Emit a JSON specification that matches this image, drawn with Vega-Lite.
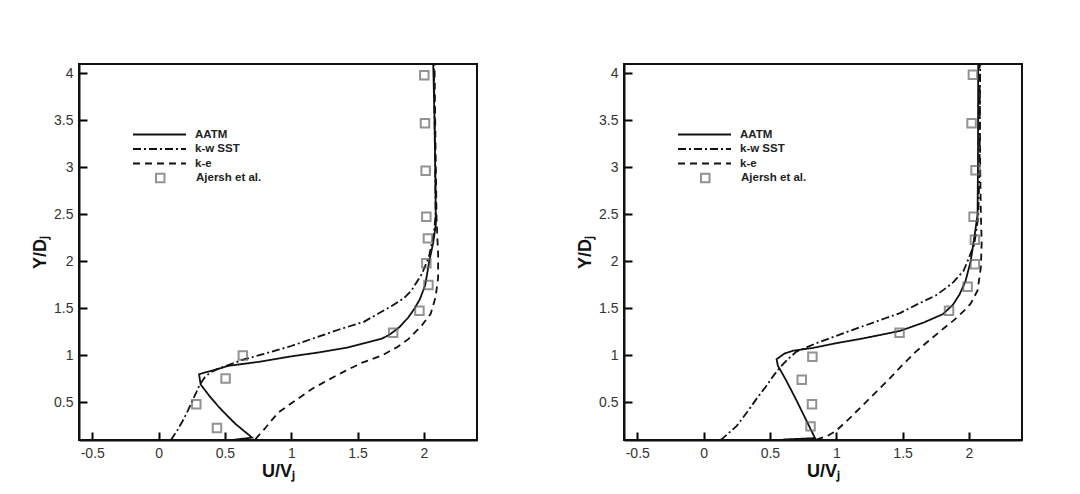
{
  "$schema": "https://vega.github.io/schema/vega-lite/v6.json",
  "padding": {"left": 30, "top": 59, "right": 5, "bottom": 5},
  "background": "white",
  "config": {
    "view": {"stroke": "#111", "strokeWidth": 2},
    "font": "Liberation Sans",
    "axis": {"grid": false, "domainColor": "#111", "domainWidth": 2, "labelFont": "Liberation Sans", "labelFontSize": 14, "labelColor": "#333", "titleFont": "Liberation Sans", "titleFontSize": 18, "titleFontWeight": "bold", "titleColor": "#111"},
    "legend": {"labelFont": "Liberation Sans", "labelFontSize": 11.5, "labelFontWeight": "bold", "labelColor": "#222", "padding": 0, "title": null}
  },
  "datasets": {
    "lines": [
      {"panel": "L", "series": "AATM", "x": 0.55, "y": 0.10},
      {"panel": "L", "series": "AATM", "x": 0.705, "y": 0.125},
      {"panel": "L", "series": "AATM", "x": 0.645, "y": 0.195},
      {"panel": "L", "series": "AATM", "x": 0.58, "y": 0.27},
      {"panel": "L", "series": "AATM", "x": 0.52, "y": 0.355},
      {"panel": "L", "series": "AATM", "x": 0.455, "y": 0.45},
      {"panel": "L", "series": "AATM", "x": 0.385, "y": 0.565},
      {"panel": "L", "series": "AATM", "x": 0.317, "y": 0.69},
      {"panel": "L", "series": "AATM", "x": 0.305, "y": 0.80},
      {"panel": "L", "series": "AATM", "x": 0.42, "y": 0.845},
      {"panel": "L", "series": "AATM", "x": 0.53, "y": 0.89},
      {"panel": "L", "series": "AATM", "x": 0.75, "y": 0.93},
      {"panel": "L", "series": "AATM", "x": 1.0, "y": 0.99},
      {"panel": "L", "series": "AATM", "x": 1.2, "y": 1.03},
      {"panel": "L", "series": "AATM", "x": 1.41, "y": 1.08},
      {"panel": "L", "series": "AATM", "x": 1.55, "y": 1.13},
      {"panel": "L", "series": "AATM", "x": 1.685, "y": 1.18},
      {"panel": "L", "series": "AATM", "x": 1.74, "y": 1.22},
      {"panel": "L", "series": "AATM", "x": 1.815, "y": 1.30},
      {"panel": "L", "series": "AATM", "x": 1.88, "y": 1.40},
      {"panel": "L", "series": "AATM", "x": 1.93, "y": 1.50},
      {"panel": "L", "series": "AATM", "x": 1.97, "y": 1.60},
      {"panel": "L", "series": "AATM", "x": 2.01, "y": 1.75},
      {"panel": "L", "series": "AATM", "x": 2.04, "y": 2.0},
      {"panel": "L", "series": "AATM", "x": 2.07, "y": 2.2},
      {"panel": "L", "series": "AATM", "x": 2.09, "y": 2.4},
      {"panel": "L", "series": "AATM", "x": 2.085, "y": 3.0},
      {"panel": "L", "series": "AATM", "x": 2.08, "y": 3.5},
      {"panel": "L", "series": "AATM", "x": 2.07, "y": 4.1},
      {"panel": "L", "series": "k-w SST", "x": 0.093, "y": 0.10},
      {"panel": "L", "series": "k-w SST", "x": 0.14, "y": 0.2},
      {"panel": "L", "series": "k-w SST", "x": 0.18, "y": 0.30},
      {"panel": "L", "series": "k-w SST", "x": 0.22, "y": 0.41},
      {"panel": "L", "series": "k-w SST", "x": 0.255, "y": 0.52},
      {"panel": "L", "series": "k-w SST", "x": 0.285, "y": 0.61},
      {"panel": "L", "series": "k-w SST", "x": 0.31, "y": 0.69},
      {"panel": "L", "series": "k-w SST", "x": 0.35, "y": 0.77},
      {"panel": "L", "series": "k-w SST", "x": 0.39, "y": 0.82},
      {"panel": "L", "series": "k-w SST", "x": 0.47, "y": 0.87},
      {"panel": "L", "series": "k-w SST", "x": 0.54, "y": 0.905},
      {"panel": "L", "series": "k-w SST", "x": 0.65, "y": 0.96},
      {"panel": "L", "series": "k-w SST", "x": 0.78, "y": 1.01},
      {"panel": "L", "series": "k-w SST", "x": 1.0, "y": 1.1},
      {"panel": "L", "series": "k-w SST", "x": 1.164, "y": 1.18},
      {"panel": "L", "series": "k-w SST", "x": 1.35, "y": 1.27},
      {"panel": "L", "series": "k-w SST", "x": 1.55, "y": 1.36},
      {"panel": "L", "series": "k-w SST", "x": 1.65, "y": 1.44},
      {"panel": "L", "series": "k-w SST", "x": 1.763, "y": 1.53},
      {"panel": "L", "series": "k-w SST", "x": 1.85, "y": 1.61},
      {"panel": "L", "series": "k-w SST", "x": 1.906, "y": 1.69},
      {"panel": "L", "series": "k-w SST", "x": 1.984, "y": 1.865},
      {"panel": "L", "series": "k-w SST", "x": 2.036, "y": 2.04},
      {"panel": "L", "series": "k-w SST", "x": 2.075, "y": 2.29},
      {"panel": "L", "series": "k-w SST", "x": 2.088, "y": 2.5},
      {"panel": "L", "series": "k-w SST", "x": 2.085, "y": 3.0},
      {"panel": "L", "series": "k-w SST", "x": 2.08, "y": 3.5},
      {"panel": "L", "series": "k-w SST", "x": 2.075, "y": 4.1},
      {"panel": "L", "series": "k-e", "x": 0.73, "y": 0.11},
      {"panel": "L", "series": "k-e", "x": 0.80, "y": 0.22},
      {"panel": "L", "series": "k-e", "x": 0.90, "y": 0.39},
      {"panel": "L", "series": "k-e", "x": 1.03, "y": 0.52},
      {"panel": "L", "series": "k-e", "x": 1.164, "y": 0.65},
      {"panel": "L", "series": "k-e", "x": 1.28, "y": 0.74},
      {"panel": "L", "series": "k-e", "x": 1.40, "y": 0.83},
      {"panel": "L", "series": "k-e", "x": 1.53, "y": 0.92},
      {"panel": "L", "series": "k-e", "x": 1.685, "y": 1.0},
      {"panel": "L", "series": "k-e", "x": 1.80, "y": 1.09},
      {"panel": "L", "series": "k-e", "x": 1.88, "y": 1.17},
      {"panel": "L", "series": "k-e", "x": 1.984, "y": 1.32},
      {"panel": "L", "series": "k-e", "x": 2.05, "y": 1.44},
      {"panel": "L", "series": "k-e", "x": 2.088, "y": 1.62},
      {"panel": "L", "series": "k-e", "x": 2.107, "y": 1.83},
      {"panel": "L", "series": "k-e", "x": 2.107, "y": 2.08},
      {"panel": "L", "series": "k-e", "x": 2.10, "y": 2.29},
      {"panel": "L", "series": "k-e", "x": 2.095, "y": 2.47},
      {"panel": "L", "series": "k-e", "x": 2.09, "y": 3.0},
      {"panel": "L", "series": "k-e", "x": 2.085, "y": 3.5},
      {"panel": "L", "series": "k-e", "x": 2.08, "y": 4.1},
      {"panel": "R", "series": "AATM", "x": 0.60, "y": 0.105},
      {"panel": "R", "series": "AATM", "x": 0.84, "y": 0.12},
      {"panel": "R", "series": "AATM", "x": 0.826, "y": 0.16},
      {"panel": "R", "series": "AATM", "x": 0.76, "y": 0.35},
      {"panel": "R", "series": "AATM", "x": 0.69, "y": 0.55},
      {"panel": "R", "series": "AATM", "x": 0.62, "y": 0.74},
      {"panel": "R", "series": "AATM", "x": 0.56, "y": 0.89},
      {"panel": "R", "series": "AATM", "x": 0.55, "y": 0.96},
      {"panel": "R", "series": "AATM", "x": 0.61, "y": 1.02},
      {"panel": "R", "series": "AATM", "x": 0.675, "y": 1.05},
      {"panel": "R", "series": "AATM", "x": 0.826, "y": 1.08},
      {"panel": "R", "series": "AATM", "x": 1.0, "y": 1.13},
      {"panel": "R", "series": "AATM", "x": 1.2, "y": 1.18},
      {"panel": "R", "series": "AATM", "x": 1.48, "y": 1.26},
      {"panel": "R", "series": "AATM", "x": 1.66, "y": 1.35},
      {"panel": "R", "series": "AATM", "x": 1.805, "y": 1.44},
      {"panel": "R", "series": "AATM", "x": 1.88, "y": 1.54},
      {"panel": "R", "series": "AATM", "x": 1.93, "y": 1.65},
      {"panel": "R", "series": "AATM", "x": 1.974, "y": 1.79},
      {"panel": "R", "series": "AATM", "x": 2.013, "y": 2.0},
      {"panel": "R", "series": "AATM", "x": 2.044, "y": 2.29},
      {"panel": "R", "series": "AATM", "x": 2.065, "y": 2.5},
      {"panel": "R", "series": "AATM", "x": 2.068, "y": 3.0},
      {"panel": "R", "series": "AATM", "x": 2.07, "y": 4.1},
      {"panel": "R", "series": "k-w SST", "x": 0.127, "y": 0.10},
      {"panel": "R", "series": "k-w SST", "x": 0.146, "y": 0.12},
      {"panel": "R", "series": "k-w SST", "x": 0.25, "y": 0.25},
      {"panel": "R", "series": "k-w SST", "x": 0.33, "y": 0.40},
      {"panel": "R", "series": "k-w SST", "x": 0.40, "y": 0.54},
      {"panel": "R", "series": "k-w SST", "x": 0.47, "y": 0.67},
      {"panel": "R", "series": "k-w SST", "x": 0.53, "y": 0.79},
      {"panel": "R", "series": "k-w SST", "x": 0.575, "y": 0.87},
      {"panel": "R", "series": "k-w SST", "x": 0.635, "y": 0.96},
      {"panel": "R", "series": "k-w SST", "x": 0.70, "y": 1.04},
      {"panel": "R", "series": "k-w SST", "x": 0.85, "y": 1.13},
      {"panel": "R", "series": "k-w SST", "x": 1.1, "y": 1.26},
      {"panel": "R", "series": "k-w SST", "x": 1.36, "y": 1.39},
      {"panel": "R", "series": "k-w SST", "x": 1.48, "y": 1.45},
      {"panel": "R", "series": "k-w SST", "x": 1.62, "y": 1.55},
      {"panel": "R", "series": "k-w SST", "x": 1.753, "y": 1.64},
      {"panel": "R", "series": "k-w SST", "x": 1.83, "y": 1.72},
      {"panel": "R", "series": "k-w SST", "x": 1.883, "y": 1.78},
      {"panel": "R", "series": "k-w SST", "x": 1.96, "y": 1.9},
      {"panel": "R", "series": "k-w SST", "x": 2.04, "y": 2.18},
      {"panel": "R", "series": "k-w SST", "x": 2.07, "y": 2.47},
      {"panel": "R", "series": "k-w SST", "x": 2.08, "y": 3.0},
      {"panel": "R", "series": "k-w SST", "x": 2.085, "y": 4.1},
      {"panel": "R", "series": "k-e", "x": 0.85, "y": 0.105},
      {"panel": "R", "series": "k-e", "x": 0.93, "y": 0.14},
      {"panel": "R", "series": "k-e", "x": 1.0, "y": 0.2},
      {"panel": "R", "series": "k-e", "x": 1.1, "y": 0.33},
      {"panel": "R", "series": "k-e", "x": 1.2, "y": 0.47},
      {"panel": "R", "series": "k-e", "x": 1.3, "y": 0.61},
      {"panel": "R", "series": "k-e", "x": 1.4, "y": 0.75},
      {"panel": "R", "series": "k-e", "x": 1.5, "y": 0.9},
      {"panel": "R", "series": "k-e", "x": 1.6, "y": 1.04},
      {"panel": "R", "series": "k-e", "x": 1.727, "y": 1.19},
      {"panel": "R", "series": "k-e", "x": 1.82, "y": 1.3},
      {"panel": "R", "series": "k-e", "x": 1.883, "y": 1.37},
      {"panel": "R", "series": "k-e", "x": 1.96, "y": 1.47},
      {"panel": "R", "series": "k-e", "x": 2.013, "y": 1.55},
      {"panel": "R", "series": "k-e", "x": 2.065, "y": 1.69},
      {"panel": "R", "series": "k-e", "x": 2.09, "y": 1.94},
      {"panel": "R", "series": "k-e", "x": 2.096, "y": 2.2},
      {"panel": "R", "series": "k-e", "x": 2.09, "y": 2.5},
      {"panel": "R", "series": "k-e", "x": 2.085, "y": 3.0},
      {"panel": "R", "series": "k-e", "x": 2.08, "y": 4.1}
    ],
    "points": [
      {"panel": "L", "series": "Ajersh et al.", "x": 2.003, "y": 3.98},
      {"panel": "L", "series": "Ajersh et al.", "x": 2.008, "y": 3.47},
      {"panel": "L", "series": "Ajersh et al.", "x": 2.013, "y": 2.965},
      {"panel": "L", "series": "Ajersh et al.", "x": 2.018, "y": 2.475},
      {"panel": "L", "series": "Ajersh et al.", "x": 2.03, "y": 2.245},
      {"panel": "L", "series": "Ajersh et al.", "x": 2.018, "y": 1.98},
      {"panel": "L", "series": "Ajersh et al.", "x": 2.034, "y": 1.75},
      {"panel": "L", "series": "Ajersh et al.", "x": 1.966, "y": 1.475},
      {"panel": "L", "series": "Ajersh et al.", "x": 1.768, "y": 1.24},
      {"panel": "L", "series": "Ajersh et al.", "x": 0.635, "y": 1.0},
      {"panel": "L", "series": "Ajersh et al.", "x": 0.505, "y": 0.755},
      {"panel": "L", "series": "Ajersh et al.", "x": 0.284, "y": 0.48},
      {"panel": "L", "series": "Ajersh et al.", "x": 0.44, "y": 0.227},
      {"panel": "R", "series": "Ajersh et al.", "x": 2.03, "y": 3.986},
      {"panel": "R", "series": "Ajersh et al.", "x": 2.02, "y": 3.47},
      {"panel": "R", "series": "Ajersh et al.", "x": 2.05, "y": 2.97},
      {"panel": "R", "series": "Ajersh et al.", "x": 2.035, "y": 2.475},
      {"panel": "R", "series": "Ajersh et al.", "x": 2.045, "y": 2.23},
      {"panel": "R", "series": "Ajersh et al.", "x": 2.045, "y": 1.97},
      {"panel": "R", "series": "Ajersh et al.", "x": 1.99, "y": 1.73},
      {"panel": "R", "series": "Ajersh et al.", "x": 1.85, "y": 1.475},
      {"panel": "R", "series": "Ajersh et al.", "x": 1.477, "y": 1.24},
      {"panel": "R", "series": "Ajersh et al.", "x": 0.82, "y": 0.986},
      {"panel": "R", "series": "Ajersh et al.", "x": 0.74, "y": 0.74},
      {"panel": "R", "series": "Ajersh et al.", "x": 0.817, "y": 0.48},
      {"panel": "R", "series": "Ajersh et al.", "x": 0.806, "y": 0.245}
    ]
  },
  "spacing": 97,
  "resolve": {"scale": {"strokeDash": "independent", "shape": "independent"}, "legend": {"strokeDash": "independent", "shape": "independent"}},
  "hconcat": [
    {
      "width": 398, "height": 376,
      "layer": [
        {
          "data": {"name": "lines"},
          "transform": [{"filter": "datum.panel === 'L'"}],
          "mark": {"type": "line", "color": "#111", "strokeWidth": 1.8},
          "encoding": {
            "x": {"field": "x", "type": "quantitative", "scale": {"domain": [-0.6, 2.4], "nice": false, "zero": false}, "axis": {"orient": "bottom", "tickCount": 6, "tickSize": -8, "tickColor": "#000", "tickWidth": 2, "zindex": 1, "labelPadding": 14, "labelExpr": "'' + datum.value", "title": "U/Vⱼ", "titlePadding": 2}},
            "y": {"field": "y", "type": "quantitative", "scale": {"domain": [0.1, 4.1], "nice": false, "zero": false}, "axis": {"orient": "left", "tickCount": 8, "tickSize": -8, "tickColor": "#000", "tickWidth": 2, "zindex": 1, "labelPadding": 14, "labelExpr": "'' + datum.value", "title": "Y/Dⱼ", "titlePadding": 4}},
            "strokeDash": {"field": "series", "type": "nominal", "scale": {"domain": ["AATM", "k-w SST", "k-e"], "range": [[1, 0], [8, 3, 2, 3], [7, 5]]}, "legend": {"orient": "none", "legendX": 53, "legendY": 63.5, "symbolType": "stroke", "symbolSize": 2809, "symbolStrokeWidth": 2, "symbolStrokeColor": "#111", "labelOffset": 8, "clipHeight": 14, "rowPadding": 0.5}},
            "order": {"field": "y", "type": "quantitative"}
          }
        },
        {
          "data": {"name": "points"},
          "transform": [{"filter": "datum.panel === 'L'"}],
          "mark": {"type": "point", "filled": false, "color": "#666", "strokeWidth": 2, "size": 72},
          "encoding": {
            "x": {"field": "x", "type": "quantitative"},
            "y": {"field": "y", "type": "quantitative"},
            "shape": {"field": "series", "type": "nominal", "scale": {"range": ["square"]}, "legend": {"orient": "none", "legendX": 75.5, "legendY": 107, "symbolStrokeColor": "#666", "symbolStrokeWidth": 2, "symbolSize": 72, "labelOffset": 30, "clipHeight": 14}}
          }
        }
      ]
    },
    {
      "width": 398, "height": 376,
      "layer": [
        {
          "data": {"name": "lines"},
          "transform": [{"filter": "datum.panel === 'R'"}],
          "mark": {"type": "line", "color": "#111", "strokeWidth": 1.8},
          "encoding": {
            "x": {"field": "x", "type": "quantitative", "scale": {"domain": [-0.6, 2.4], "nice": false, "zero": false}, "axis": {"orient": "bottom", "tickCount": 6, "tickSize": -8, "tickColor": "#000", "tickWidth": 2, "zindex": 1, "labelPadding": 14, "labelExpr": "'' + datum.value", "title": "U/Vⱼ", "titlePadding": 2}},
            "y": {"field": "y", "type": "quantitative", "scale": {"domain": [0.1, 4.1], "nice": false, "zero": false}, "axis": {"orient": "left", "tickCount": 8, "tickSize": -8, "tickColor": "#000", "tickWidth": 2, "zindex": 1, "labelPadding": 14, "labelExpr": "'' + datum.value", "title": "Y/Dⱼ", "titlePadding": 4}},
            "strokeDash": {"field": "series", "type": "nominal", "scale": {"domain": ["AATM", "k-w SST", "k-e"], "range": [[1, 0], [8, 3, 2, 3], [7, 5]]}, "legend": {"orient": "none", "legendX": 53, "legendY": 63.5, "symbolType": "stroke", "symbolSize": 2809, "symbolStrokeWidth": 2, "symbolStrokeColor": "#111", "labelOffset": 8, "clipHeight": 14, "rowPadding": 0.5}},
            "order": {"field": "y", "type": "quantitative"}
          }
        },
        {
          "data": {"name": "points"},
          "transform": [{"filter": "datum.panel === 'R'"}],
          "mark": {"type": "point", "filled": false, "color": "#666", "strokeWidth": 2, "size": 72},
          "encoding": {
            "x": {"field": "x", "type": "quantitative"},
            "y": {"field": "y", "type": "quantitative"},
            "shape": {"field": "series", "type": "nominal", "scale": {"range": ["square"]}, "legend": {"orient": "none", "legendX": 75.5, "legendY": 107, "symbolStrokeColor": "#666", "symbolStrokeWidth": 2, "symbolSize": 72, "labelOffset": 30, "clipHeight": 14}}
          }
        }
      ]
    }
  ]
}
